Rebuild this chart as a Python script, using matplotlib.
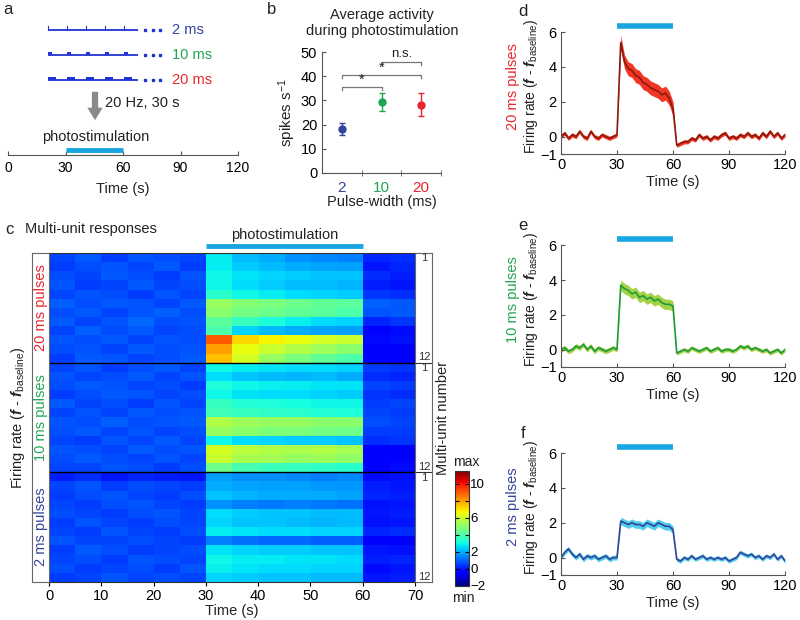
import numpy as np
import matplotlib
matplotlib.use("Agg")
import matplotlib.pyplot as plt
from matplotlib.patches import Rectangle

plt.rcParams['font.family'] = ['Liberation Sans', 'DejaVu Sans']
plt.rcParams['mathtext.fontset'] = 'custom'
plt.rcParams['mathtext.rm'] = 'Liberation Sans'
plt.rcParams['mathtext.it'] = 'Liberation Sans:italic'
plt.rcParams['mathtext.bf'] = 'Liberation Sans:bold'
plt.rcParams['mathtext.bfit'] = 'Liberation Sans:bold:italic'

# ---------------- data ----------------
pulse_widths = [2, 10, 20]                 # ms
pulse_labels = ["2 ms", "10 ms", "20 ms"]
group_colors = ["#34449a", "#1fa653", "#e8262f"]

# panel b: mean +- sem (spikes/s)
b_means = [18.0, 29.3, 28.2]
b_sems = [2.5, 3.7, 4.7]
b_ticklabels = ["2", "10", "20"]
# (from, to, y, label)
b_sig = [(1, 2, 35.5, "*"), (1, 3, 40.5, "*"), (2, 3, 45.8, "n.s.")]

stim_on, stim_off = 30, 60

# panel c: multi-unit rates in 5-s bins (0-70 s), 12 units per group
heat_20ms = [
    [0.6, 0.9, 0.5, 0.8, 0.7, 0.6, 2.8, 2.2, 2.0, 1.6, 1.5, 1.4, 0.2, 0.3],
    [0.5, 0.7, 0.8, 0.6, 0.9, 0.5, 2.8, 2.4, 2.2, 2.0, 1.9, 1.8, 0.0, 0.2],
    [0.7, 0.6, 0.9, 0.7, 0.5, 0.8, 3.0, 2.7, 2.5, 2.4, 2.3, 2.3, 0.3, 0.1],
    [0.8, 0.5, 0.6, 0.9, 0.6, 0.7, 3.0, 2.6, 2.4, 2.2, 2.2, 2.1, 0.1, 0.0],
    [0.6, 0.8, 0.7, 0.5, 0.8, 0.6, 3.4, 3.0, 2.8, 2.6, 2.5, 2.4, 0.4, 0.3],
    [1.0, 0.7, 0.9, 0.8, 0.6, 0.9, 5.2, 4.9, 4.7, 4.5, 4.3, 4.2, 1.0, 0.9],
    [0.7, 0.9, 0.6, 0.8, 1.0, 0.7, 5.0, 4.6, 4.5, 4.3, 4.2, 4.0, 0.8, 0.9],
    [0.9, 0.6, 0.8, 1.1, 0.7, 0.8, 4.2, 3.6, 3.2, 2.9, 2.6, 2.5, 0.2, 0.4],
    [0.6, 1.0, 0.7, 0.9, 0.6, 0.7, 4.0, 2.5, 2.2, 2.0, 1.9, 1.8, -0.3, -0.2],
    [0.8, 0.7, 0.9, 0.6, 0.8, 0.7, 9.0, 7.2, 6.8, 6.5, 6.2, 6.0, -0.2, -0.1],
    [0.7, 0.8, 0.6, 0.9, 0.7, 0.8, 8.0, 6.5, 6.0, 5.6, 5.3, 5.0, -0.5, -0.3],
    [0.5, 0.9, 0.8, 0.6, 0.7, 0.9, 7.5, 6.2, 5.2, 4.7, 4.3, 4.0, -0.4, -0.4],
]
heat_10ms = [
    [0.6, 0.8, 0.5, 0.7, 0.9, 0.6, 3.0, 2.8, 2.7, 2.6, 2.6, 2.5, 0.5, 0.4],
    [0.8, 0.6, 0.7, 0.9, 0.6, 0.8, 2.6, 2.3, 2.2, 2.1, 2.2, 2.0, 0.3, 0.2],
    [0.7, 0.9, 0.8, 0.6, 0.7, 0.5, 3.2, 3.0, 2.9, 2.8, 2.7, 2.7, 0.6, 0.5],
    [0.5, 0.7, 0.9, 0.8, 0.6, 0.7, 3.0, 2.7, 2.6, 2.6, 2.5, 2.4, 0.4, 0.3],
    [0.9, 0.6, 0.7, 0.5, 0.8, 0.6, 3.6, 3.3, 3.2, 3.1, 3.0, 3.0, 0.5, 0.6],
    [0.6, 0.8, 0.6, 0.9, 0.7, 0.8, 3.8, 3.6, 3.5, 3.4, 3.3, 3.2, 0.6, 0.5],
    [0.8, 0.7, 1.0, 0.7, 0.8, 0.9, 5.6, 5.3, 5.2, 5.2, 5.0, 5.0, 0.7, 0.6],
    [0.7, 0.9, 0.6, 0.8, 0.6, 0.7, 5.2, 5.0, 4.8, 4.8, 4.6, 4.5, 0.5, 0.5],
    [0.6, 0.5, 0.8, 0.6, 0.9, 0.6, 3.0, 2.6, 2.5, 2.4, 2.4, 2.3, 0.3, 0.4],
    [0.8, 0.7, 0.6, 0.9, 0.7, 0.8, 6.2, 5.8, 5.6, 5.5, 5.6, 5.4, -0.4, -0.3],
    [0.7, 0.9, 0.7, 0.6, 0.8, 0.6, 6.0, 5.5, 5.4, 5.2, 5.3, 5.1, -0.5, -0.4],
    [0.6, 0.6, 0.8, 0.7, 0.5, 0.7, 4.5, 3.9, 3.7, 3.6, 3.5, 3.4, -0.3, -0.2],
]
heat_2ms = [
    [0.1, 0.3, 0.0, 0.2, 0.1, 0.0, 1.8, 1.6, 1.6, 1.5, 1.4, 1.5, -0.2, -0.1],
    [0.6, 0.8, 0.5, 0.7, 0.6, 0.5, 2.0, 1.9, 1.8, 1.8, 1.7, 1.7, 0.1, 0.0],
    [0.5, 0.7, 0.8, 0.6, 0.5, 0.7, 2.3, 2.1, 2.0, 2.0, 2.0, 1.9, 0.2, 0.1],
    [0.6, 0.5, 0.7, 0.8, 0.6, 0.5, 1.6, 1.4, 1.3, 1.4, 1.3, 1.2, -0.1, 0.0],
    [0.7, 0.6, 0.5, 0.7, 0.8, 0.6, 2.6, 2.4, 2.3, 2.3, 2.2, 2.2, 0.0, 0.1],
    [0.5, 0.8, 0.6, 0.5, 0.7, 0.6, 2.5, 2.3, 2.3, 2.2, 2.1, 2.2, -0.1, 0.0],
    [0.6, 0.5, 0.8, 0.6, 0.5, 0.7, 2.8, 2.7, 2.6, 2.6, 2.5, 2.5, 0.2, 0.3],
    [0.8, 0.6, 0.6, 0.7, 0.6, 0.5, 1.4, 1.2, 1.1, 1.1, 1.0, 1.0, -0.3, -0.3],
    [0.5, 0.9, 0.7, 0.5, 0.6, 0.7, 2.7, 2.5, 2.4, 2.4, 2.3, 2.3, 0.0, -0.1],
    [0.6, 0.7, 0.5, 0.8, 0.7, 0.6, 3.0, 2.8, 2.8, 2.7, 2.7, 2.6, 0.1, 0.2],
    [0.7, 0.5, 0.6, 0.7, 0.5, 0.8, 2.9, 2.7, 2.6, 2.6, 2.5, 2.5, -0.2, 0.0],
    [0.5, 0.6, 0.8, 0.6, 0.7, 0.6, 2.5, 2.4, 2.3, 2.3, 2.2, 2.2, 0.0, 0.1],
]
heat_vmin, heat_vmax = -2, 11.5

# panels d-f: mean firing rate change, sampled every 2 s (0-120 s)
t_trace = np.arange(0, 121, 2)
rate_20ms = [0.0, 0.2, -0.1, 0.1, 0.0, 0.3, 0.0, -0.1, 0.3, 0.0, -0.1, 0.1, 0.0, -0.1, 0.0, 0.1,
             5.4, 4.3, 3.9, 3.8, 3.5, 3.4, 3.1, 3.0, 2.8, 2.7, 2.6, 2.4, 2.5, 2.2, 1.6,
             -0.5, -0.4, -0.3, -0.3, -0.1, -0.2, 0.1, -0.1, 0.0, -0.2, 0.0, -0.1, 0.1, 0.2, -0.1,
             0.0, -0.1, 0.1, 0.0, 0.2, 0.0, 0.1, -0.1, 0.2, 0.0, 0.3, 0.0, 0.2, -0.1, 0.1]
rate_10ms = [0.0, 0.1, -0.1, 0.0, 0.2, 0.1, 0.3, 0.0, 0.2, -0.1, 0.1, 0.0, -0.1, 0.0, 0.1, 0.0,
             3.7, 3.5, 3.4, 3.2, 3.3, 3.0, 3.1, 2.9, 3.0, 2.8, 2.9, 2.7, 2.6, 2.6, 2.5,
             -0.2, -0.1, 0.0, -0.1, 0.1, 0.0, -0.1, 0.0, 0.1, -0.1, 0.0, 0.1, -0.1, 0.0, 0.0,
             -0.1, 0.0, 0.2, 0.1, 0.2, 0.0, 0.1, 0.0, -0.1, 0.0, -0.2, -0.1, 0.0, -0.2, 0.0]
rate_2ms = [0.0, 0.3, 0.5, 0.2, 0.0, 0.2, -0.1, 0.1, 0.0, 0.1, -0.1, 0.0, 0.1, -0.1, 0.0, 0.0,
            2.1, 2.0, 1.9, 2.0, 1.9, 1.9, 1.8, 2.0, 1.9, 1.8, 2.0, 1.9, 1.8, 1.8, 1.6,
            -0.1, -0.2, 0.0, -0.1, 0.1, -0.1, 0.0, 0.1, -0.1, 0.0, -0.1, 0.0, -0.1, 0.0, -0.2,
            -0.1, 0.0, 0.3, 0.2, 0.1, 0.2, 0.0, 0.1, -0.1, 0.1, 0.0, 0.2, -0.1, 0.1, -0.2]
# sem before / during / after stimulation
sem_20ms = [0.12, 0.40, 0.12]
sem_10ms = [0.14, 0.30, 0.12]
sem_2ms = [0.14, 0.22, 0.12]

# ---------------- layout helpers ----------------
W, H = 800, 620
fig = plt.figure(figsize=(W / 100, H / 100), dpi=100)

def px_axes(x0, y0, x1, y1):
    return fig.add_axes([x0 / W, 1 - y1 / H, (x1 - x0) / W, (y1 - y0) / H])

def ftext(x, y, s, **kw):
    return fig.text(x / W, 1 - y / H, s, **kw)

stim_color = "#19a6e0"
axis_color = "#555555"
txt_color = "#222222"

# ---------------- panel a ----------------
ax_s = px_axes(0, 0, 260, 200)
ax_s.set_xlim(0, 260)
ax_s.set_ylim(200, 0)
ax_s.axis("off")
train_y = [30, 55, 80]
px_per_ms = 0.38
for w, lab, col, y in zip(pulse_widths, pulse_labels, group_colors, train_y):
    ax_s.plot([48, 138], [y, y], color="#1f33d6", lw=1.3, solid_capstyle="butt")
    for k in range(5):
        x0 = 48 + k * 19
        if w <= 2:
            ax_s.plot([x0, x0], [y, y - 4], color="#1f33d6", lw=0.8)
        else:
            ax_s.add_patch(Rectangle((x0, y - 3.5), w * px_per_ms, 3.5, color="#1f33d6", lw=0))
    ax_s.plot([145, 152.5, 160], [y, y, y], ls="none", marker="s", ms=1.8, color="#1f33d6")
    ax_s.text(172, y, lab, color=col, fontsize=10.5, va="center", ha="left")
ax_s.annotate("", xy=(95, 123), xytext=(95, 89),
              arrowprops=dict(arrowstyle="simple,head_width=1.1,head_length=0.9,tail_width=0.45",
                              color="#8a8a8a", lw=0))
ax_s.text(105, 103, "20 Hz, 30 s", fontsize=10.5, va="center", ha="left", color=txt_color)
ax_s.text(96, 137, "photostimulation", fontsize=10.5, va="center", ha="center", color=txt_color)

ax_a = px_axes(8, 135, 238, 155)
ax_a.set_xlim(0, 120)
ax_a.set_ylim(0, 1)
for side in ["top", "right", "left"]:
    ax_a.spines[side].set_visible(False)
ax_a.spines["bottom"].set_color(axis_color)
ax_a.set_yticks([])
ax_a.set_xticks([0, 30, 60, 90, 120])
ax_a.tick_params(axis="x", direction="in", length=3, color=axis_color, labelsize=10, pad=4)
ax_a.plot([stim_on, stim_off], [0.25, 0.25], color=stim_color, lw=3.5, solid_capstyle="butt")
ax_a.set_xlabel("Time (s)", fontsize=10.5, labelpad=5, color=txt_color)
ax_a.patch.set_alpha(0)

# ---------------- panel b ----------------
ax_b = px_axes(322, 52, 441, 173)
xb = np.arange(1, len(b_means) + 1)
for x, m, s, c in zip(xb, b_means, b_sems, group_colors):
    ax_b.errorbar([x], [m], yerr=[s], fmt="o", color=c, ms=5, capsize=2.5, elinewidth=1, capthick=1)
for x1, x2, yy, lab in b_sig:
    ax_b.plot([x1, x1, x2, x2], [yy - 1.3, yy, yy, yy - 1.3], color="#777777", lw=0.9)
    ax_b.text((x1 + x2) / 2, yy + (0.2 if lab == "*" else 0.9), lab, ha="center", va="bottom",
              fontsize=10.5 if lab == "*" else 9.5, color=txt_color)
ax_b.set_xlim(0.5, 3.5)
ax_b.set_ylim(0, 50)
ax_b.set_yticks([0, 10, 20, 30, 40, 50])
ax_b.set_xticks(xb)
ax_b.set_xticklabels(b_ticklabels, fontsize=11)
for lbl, c in zip(ax_b.get_xticklabels(), group_colors):
    lbl.set_color(c)
ax_b.set_xticks([1.5, 2.5, 3.5], minor=True)
ax_b.tick_params(axis="x", which="major", length=0, pad=6)
ax_b.tick_params(axis="x", which="minor", direction="inout", length=5, color=axis_color)
ax_b.tick_params(axis="y", direction="in", length=3, color=axis_color, labelsize=10.5)
for side in ["top", "right"]:
    ax_b.spines[side].set_visible(False)
for side in ["left", "bottom"]:
    ax_b.spines[side].set_color(axis_color)
ax_b.set_ylabel("spikes s$^{-1}$", fontsize=11, labelpad=2, color=txt_color)
ax_b.set_xlabel("Pulse-width (ms)", fontsize=10.5, labelpad=0, color=txt_color)
ftext(382, 23, "Average activity\nduring photostimulation", fontsize=10.5, ha="center",
      va="center", color=txt_color, linespacing=1.15)

# ---------------- panel c ----------------
heat = np.array(heat_20ms + heat_10ms + heat_2ms)
n_rows = heat.shape[0]
ax_c = px_axes(49, 253, 415, 582)
im = ax_c.imshow(heat, aspect="auto", cmap="jet", vmin=heat_vmin, vmax=heat_vmax,
                 extent=[0, 70, n_rows, 0], interpolation="nearest")
ax_c.axhline(12, color="black", lw=1)
ax_c.axhline(24, color="black", lw=1)
ax_c.set_yticks([])
ax_c.set_xticks(range(0, 71, 10))
ax_c.tick_params(axis="x", direction="out", length=3, labelsize=10.5, pad=2)
ax_c.set_xlabel("Time (s)", fontsize=10.5, labelpad=1, color=txt_color)
ax_c.plot([stim_on, stim_off], [-0.77, -0.77], color=stim_color, lw=3.5,
          solid_capstyle="butt", clip_on=False)
ax_c.text(45, -2.0, "photostimulation", fontsize=10.5, ha="center", va="center", color=txt_color)
ax_c.set_xlim(0, 70)
ax_c.set_ylim(n_rows, 0)
for sp in ax_c.spines.values():
    sp.set_color("#333333")

ax_l = px_axes(32, 253, 49, 582)
ax_r = px_axes(415, 253, 432, 582)
for ax in (ax_l, ax_r):
    ax.set_xlim(0, 1)
    ax.set_ylim(n_rows, 0)
    ax.set_xticks([])
    ax.set_yticks([])
    for sp in ax.spines.values():
        sp.set_color("#666666")
group_names = ["20 ms pulses", "10 ms pulses", "2 ms pulses"]
group_cols = [group_colors[2], group_colors[1], group_colors[0]]
for g, (name, col) in enumerate(zip(group_names, group_cols)):
    ax_l.text(0.5, g * 12 + 6, name, rotation=90, ha="center", va="center", color=col, fontsize=10.5)
    ax_r.text(0.55, g * 12 + 0.6, "1", ha="center", va="center", fontsize=8, color="#333333")
    ax_r.text(0.55, g * 12 + 11.4, "12", ha="center", va="center", fontsize=8, color="#333333")
    if g > 0:
        ax_r.axhline(g * 12, color="#333333", lw=0.8)
ftext(18, 418, r"Firing rate ($\mathbfit{f}$ - $\mathbfit{f}_{\mathrm{baseline}}$)", rotation=90,
      ha="center", va="center", fontsize=10.5, color=txt_color)
ftext(443, 418, "Multi-unit number", rotation=90, ha="center", va="center", fontsize=10.5,
      color=txt_color)
ftext(5, 229, "c", fontsize=12, ha="left", va="center", color=txt_color)
ftext(25, 229, "Multi-unit responses", fontsize=10.5, ha="left", va="center", color=txt_color)

cax = px_axes(455, 471, 469, 586)
cb = fig.colorbar(im, cax=cax, ticks=[-2, 0, 2, 4, 6, 8, 10])
cb.ax.set_yticklabels(["\u22122", "0", "2", "", "6", "", "10"])
cb.ax.tick_params(direction="in", length=3, labelsize=9.5, pad=1, left=True)
cb.outline.set_edgecolor("#333333")
ftext(466, 462, "max", fontsize=10, ha="center", va="center", color=txt_color)
ftext(463, 598, "min", fontsize=10, ha="center", va="center", color=txt_color)

# ---------------- panels d-f ----------------
t = t_trace
traces = [
    ("d", 0, rate_20ms, sem_20ms, "#8b1a0e", "#f0200c", "20 ms pulses", group_colors[2]),
    ("e", 213, rate_10ms, sem_10ms, "#1f9a3c", "#9acd32", "10 ms pulses", group_colors[1]),
    ("f", 421, rate_2ms, sem_2ms, "#33449a", "#3ec8ea", "2 ms pulses", group_colors[0]),
]
for letter, dy, rate, sem, lc, bc, glabel, gcol in traces:
    rate = np.array(rate)
    s = np.where(t <= stim_on, sem[0], np.where(t <= stim_off, sem[1], sem[2]))
    y_bot = 154 + dy
    ax = px_axes(561, y_bot - 7.8 * 17.4, 785, y_bot)
    ax.fill_between(t, rate - s, rate + s, color=bc, lw=0, alpha=0.9)
    ax.plot(t, rate, color=lc, lw=1.2)
    ax.plot([stim_on, stim_off], [6.35, 6.35], color=stim_color, lw=4, solid_capstyle="butt",
            clip_on=False)
    ax.set_xlim(0, 120)
    ax.set_ylim(-1, 6.8)
    ax.set_xticks([0, 30, 60, 90, 120])
    ax.set_yticks([-1, 0, 2, 4, 6])
    ax.spines["left"].set_bounds(-1, 6)
    for side in ["top", "right"]:
        ax.spines[side].set_visible(False)
    for side in ["left", "bottom"]:
        ax.spines[side].set_color(axis_color)
    ax.tick_params(direction="in", length=3, color=axis_color, labelsize=10.5, pad=3)
    ax.set_xlabel("Time (s)", fontsize=10.5, labelpad=2, color=txt_color)
    ymid = y_bot - 3.9 * 17.4
    ftext(531, ymid, r"Firing rate ($\mathbfit{f}$ - $\mathbfit{f}_{\mathrm{baseline}}$)",
          rotation=90, ha="center", va="center", fontsize=10, color=txt_color)
    ftext(513, ymid, glabel, rotation=90, ha="center", va="center", fontsize=10.5, color=gcol)
    ftext(523, 12 + dy, letter, fontsize=12, ha="center", va="center", color=txt_color)

ftext(8, 10, "a", fontsize=12, ha="center", va="center", color=txt_color)
ftext(272, 10, "b", fontsize=12, ha="center", va="center", color=txt_color)

fig.savefig("out.png", dpi=100)
